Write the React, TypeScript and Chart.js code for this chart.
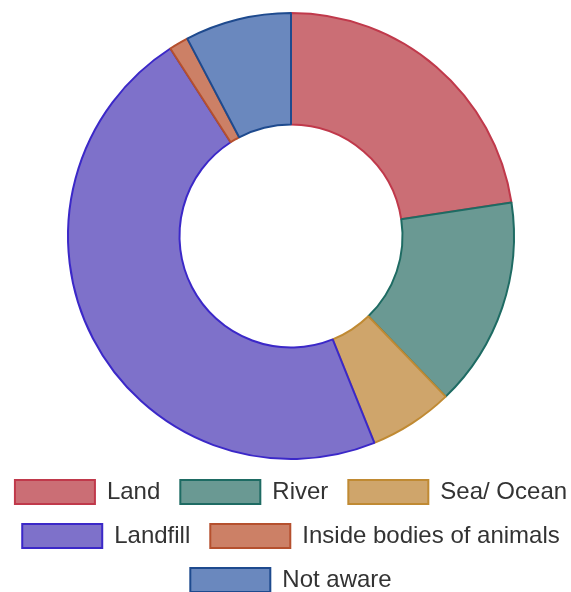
import React, { useEffect, useRef } from "react";
import { Chart, registerables } from "chart.js";

Chart.register(...registerables);

const categories: string[] = ["Land", "River", "Sea/ Ocean", "Landfill", "Inside bodies of animals", "Not aware"];
const values: number[] = [22.6, 15.2, 6.1, 47.0, 1.4, 7.7];
const fillColors: string[] = ["#CB6E75", "#6A9993", "#CFA56B", "#7E71CA", "#CC8066", "#6A88BE"];
const borderColors: string[] = ["#C0394B", "#1E6B63", "#C08A33", "#3B28C8", "#B5502E", "#1E4A8E"];

export default function App() {
  const ref = useRef<HTMLCanvasElement | null>(null);

  useEffect(() => {
    if (!ref.current) return;
    const chart = new Chart(ref.current, {
      type: "doughnut",
      data: {
        labels: categories,
        datasets: [
          {
            data: values,
            backgroundColor: fillColors,
            borderColor: borderColors,
            borderWidth: 2,
            hoverBorderWidth: 2,
          },
        ],
      },
      options: {
        responsive: false,
        animation: false,
        cutout: "50%",
        layout: { padding: 0 },
        plugins: {
          tooltip: { enabled: false },
          legend: {
            position: "bottom",
            labels: {
              boxWidth: 80,
              boxHeight: 24,
              padding: 20,
              color: "#333",
              font: { family: "Arial, 'Liberation Sans', sans-serif", size: 24 },
            },
          },
        },
      },
    });
    return () => chart.destroy();
  }, []);

  return (
    <div style={{ position: "fixed", left: 0, top: 0, width: 571, height: 592, overflow: "hidden", background: "#fff" }}>
      <div style={{ position: "absolute", left: -9, top: 12, width: 600, height: 590 }}>
        <canvas ref={ref} width={600} height={590} style={{ display: "block" }} />
      </div>
    </div>
  );
}
